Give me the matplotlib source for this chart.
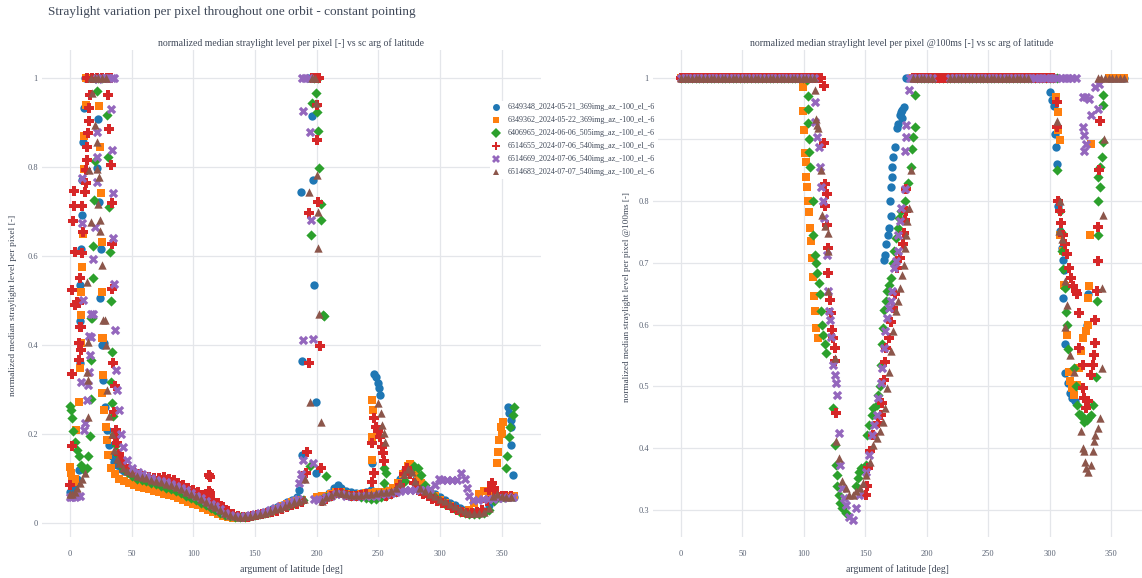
import numpy as np
import matplotlib
matplotlib.use("Agg")
import matplotlib.pyplot as plt
from matplotlib.lines import Line2D

plt.rcParams["font.family"] = ["Liberation Serif", "DejaVu Serif"]

labels = [
    "6349348_2024-05-21_369img_az_-100_el_-6",
    "6349362_2024-05-22_369img_az_-100_el_-6",
    "6406965_2024-06-06_505img_az_-100_el_-6",
    "6514655_2024-07-06_540img_az_-100_el_-6",
    "6514669_2024-07-06_540img_az_-100_el_-6",
    "6514683_2024-07-07_540img_az_-100_el_-6",
]
colors = ["#1f77b4", "#ff7f0e", "#2ca02c", "#d62728", "#9467bd", "#8c564b"]
markers = ["o", "s", "D", "P", "X", "^"]
sizes = [36, 30, 27, 48, 46, 36]

# ---------------- left panel: normalized median level (argument of latitude, value) ----------------
blue_left = [
    (0, .07), (1.5, .075), (3, .085), (4.5, .09), (6, .1), (7, .12),
    (8.1, .359), (8.1, .455), (8.1, .536), (8.7, .615), (9.5, .692), (9.5, .772), (10.8, .857), (11.4, .933),
    (12, 1), (15, 1), (18, 1), (21, 1), (24, 1), (27, 1), (30, 1),
    (22.2, .799), (22.4, .907), (23.8, .722), (24.9, .615), (24.3, .505), (25.7, .4), (27.4, .404), (26.8, .321),
    (28, .26), (30, .21), (32, .175), (34, .15), (36, .138), (38, .13), (41, .122), (44, .118),
    (48, .112), (52, .107), (56, .103), (60, .1), (64, .097), (68, .094), (72, .091), (76, .088), (80, .084),
    (84, .08), (88, .075), (92, .07), (96, .064), (100, .058), (104, .052), (108, .046), (112, .04), (116, .034),
    (120, .028), (124, .022), (128, .018), (132, .016), (136, .015), (140, .015), (144, .016), (148, .018),
    (152, .02), (156, .023), (160, .027), (164, .032), (168, .037), (172, .042), (176, .048), (180, .052),
    (184, .058), (186, .075),
    (187.8, .153), (188.1, .364), (187.4, .745), (196.5, .914), (197.4, .772), (198.1, .535), (199.3, .273),
    (199.3, .112), (193, 1), (196, 1),
    (202, .06), (206, .062), (210, .068), (214, .08), (217, .085), (220, .08), (224, .072), (228, .07),
    (232, .068), (236, .068), (240, .07), (244, .075),
    (245.3, .135), (246.9, .335), (247.8, .328), (250, .314), (251, .303), (251.6, .288),
    (256, .075), (260, .075), (264, .08), (268, .1), (272, .12), (275, .128), (278, .12), (281, .1),
    (284, .085), (288, .075), (292, .07), (296, .065), (300, .058), (304, .052), (308, .045), (312, .04),
    (316, .034), (320, .03), (324, .027), (328, .025), (332, .025), (336, .028), (340, .04), (344, .055),
    (348, .058), (352, .058), (356, .058), (360, .058),
    (354.9, .26), (355.8, .247), (357.4, .232), (358, .217), (357.4, .176), (359, .108),
]
orange_left = [
    (0, .127), (0.9, .112), (2, .1), (3, .092), (4, .1), (5, .21), (7.1, .273), (8.1, .348), (8.8, .404),
    (8.8, .467), (8.9, .52), (9.5, .576), (10.8, .65), (11.4, .795), (11.6, .87), (13, .94),
    (13, 1), (16, 1), (19, 1), (22, 1),
    (23.8, .937), (24.3, .844), (25.1, .741), (25.7, .632), (25.7, .52), (25.7, .415), (26.8, .417), (26.8, .333),
    (25.9, .292), (27.4, .254), (28.9, .217), (29.9, .187), (31.1, .153), (33.6, .123), (36.7, .11), (40, .1),
    (44, .095), (48, .09), (52, .086), (56, .082), (60, .079), (64, .076), (68, .072), (72, .069), (76, .066),
    (80, .063), (84, .06), (88, .056), (92, .052), (96, .048), (100, .044), (104, .04), (108, .035), (112, .03),
    (116, .025), (120, .02), (124, .016), (128, .013), (132, .012), (136, .012), (140, .013), (144, .014),
    (148, .016), (152, .018), (156, .02), (160, .024), (164, .028), (168, .033), (172, .038), (176, .043),
    (180, .047), (184, .05), (188, .052),
    (200, .058), (204, .06), (208, .062), (212, .066), (216, .07), (220, .07), (224, .066), (228, .064),
    (232, .064), (236, .065), (240, .068), (244, .068), (248, .07),
    (244.7, .142), (245.3, .194), (246, .254), (245.3, .277),
    (250, .07), (254, .07), (258, .072), (262, .078), (266, .09), (270, .11), (274, .128), (276, .134),
    (279, .12), (282, .105), (285, .09), (288, .078), (292, .068), (296, .06), (300, .052), (304, .045),
    (308, .038), (312, .032), (316, .027), (320, .025), (324, .03), (328, .045), (332, .065), (336, .072),
    (340, .07), (344, .065),
    (346.6, .135), (347.5, .161), (348.1, .187), (349.6, .217), (351.2, .228), (350, .2),
    (348, .06), (352, .06), (356, .06), (360, .06),
]
green_left = [
    (0, .263), (0.9, .254), (1.5, .236), (2.4, .206), (4.1, .183), (5.6, .165), (7.1, .15), (9, .13), (11, .12),
    (13.4, .125), (15, .15), (16.5, .196), (17.1, .278), (17.1, .366), (17.4, .46),
    (17.9, .46), (18.4, .55), (19, .623), (19.7, .727), (20.3, .814), (21.6, .971),
    (20, 1), (23, 1), (26, 1),
    (30.3, .918), (31.1, .823), (31.9, .711), (32.4, .61), (33.3, .5), (34.1, .385), (33.6, .318),
    (34, .27), (35, .24), (36, .2), (37, .175), (38, .155), (40, .14), (43, .125), (46, .116),
    (50, .105), (54, .1), (58, .097), (62, .094), (66, .09), (70, .087), (74, .084), (78, .08), (82, .076),
    (86, .072), (90, .067), (94, .062), (98, .057), (102, .052), (106, .046), (110, .04), (114, .034),
    (118, .029), (122, .024), (126, .019), (130, .016), (134, .015), (138, .015), (142, .015), (146, .016),
    (150, .018), (154, .02), (158, .023), (162, .026), (166, .03), (170, .034), (174, .038), (178, .042),
    (182, .046), (186, .05), (189, .052),
    (194.9, .129), (195.5, .647), (196, .943), (199.5, .967), (200, .924), (200.8, .882), (201.9, .798),
    (203.6, .716), (203.6, .682), (204.9, .467), (206.4, .465), (207.3, .105), (198, 1), (201, 1),
    (204, .055), (208, .058), (212, .062), (216, .068), (220, .07), (224, .065), (228, .062), (232, .06),
    (236, .058), (240, .056), (244, .055), (248, .055), (252, .058),
    (254.6, .123), (256.3, .112), (254.6, .09),
    (256, .06), (260, .065), (264, .07), (268, .08), (272, .095), (276, .115), (279, .128), (282, .125),
    (285, .108), (288, .085), (292, .07), (296, .058), (300, .05), (304, .044), (308, .038), (312, .032),
    (316, .026), (320, .022), (324, .02), (328, .02), (332, .02), (336, .022), (340, .03), (344, .05),
    (348, .058), (352, .058),
    (353.6, .123), (354.3, .15), (355.8, .194), (357, .215), (359, .243), (359.9, .262),
]
red_left = [
    (0, .086), (1.8, .174), (1.8, .335), (4.1, .49), (7.1, .495), (8.8, .44), (7.1, .404), (8.8, .389),
    (7.1, .367), (1.4, .524), (2.2, .679), (3.2, .712), (3.2, .746), (4.1, .61), (5.9, .497), (8.1, .441),
    (8.1, .55), (9.5, .606), (9.5, .712), (10.3, .655), (12.2, .744), (13, .765), (13, .793), (14.1, .817),
    (14.1, .844), (14.9, .876), (15.4, .904), (15.7, .933), (16.2, .962),
    (31.1, .962), (31.9, .885), (33.3, .805), (33.8, .72), (33.8, .627), (33.8, .525),
    (14, 1), (18, 1), (22, 1), (26, 1), (30, 1), (33, 1),
    (35.2, .359), (36.7, .308), (36.7, .194),
    (36, .25), (37, .21), (38, .18), (40, .155), (42, .14), (45, .128), (48, .12),
    (52, .114), (56, .11), (60, .107), (64, .104), (68, .102), (72, .101), (76, .103), (80, .1), (84, .096),
    (88, .09), (92, .085), (96, .08), (100, .075), (104, .07), (108, .064), (112, .058), (116, .052),
    (120, .045), (124, .036), (128, .028), (132, .02), (136, .016), (140, .015), (144, .015), (148, .016),
    (152, .018), (156, .02), (160, .022), (164, .025), (168, .028), (172, .032), (176, .036), (180, .04),
    (184, .044), (188, .048),
    (112.6, .108), (113.6, .104), (112.6, .072), (113.8, .068),
    (192.4, .161), (191.7, .112), (194, .359), (202.6, .398), (203.3, .123), (193.8, .697), (200, .861),
    (200, .939), (201.4, .721), (196, 1), (199, 1), (202, 1),
    (204, .05), (208, .055), (212, .06), (216, .068), (220, .068), (224, .064), (228, .062), (232, .062),
    (236, .064), (240, .066),
    (245.3, .18), (244.7, .093), (246.9, .236), (248.4, .217), (250, .206), (251.6, .194), (253.1, .172),
    (253.8, .157), (246.9, .112), (255, .14),
    (256, .062), (260, .065), (264, .07), (268, .085), (271, .11), (273, .125), (276, .11), (279, .09),
    (282, .075), (286, .065), (290, .06), (294, .055), (298, .05), (302, .045), (306, .04), (310, .035),
    (314, .03), (318, .026), (322, .024), (326, .024), (330, .025), (334, .03), (338, .05), (340, .075),
    (342, .09), (344, .08), (346, .065), (350, .06), (354, .06), (358, .06),
]
purple_left = [
    (0, .058), (2, .058), (4, .058), (6, .06), (8, .062), (8.8, .318), (9.5, .675), (9.5, .775), (10.3, .502),
    (11.2, .209), (11.8, .224), (13.4, .277), (15, .31), (15.6, .34), (16.5, .378), (17.4, .419), (17.4, .471),
    (15.7, .42), (18.4, .47), (18.9, .594), (20.3, .665), (21.6, .767), (21.6, .823), (21.6, .879),
    (22.7, .997), (33.3, .93), (33.8, .838), (34.6, .742), (35.2, .64), (36, .537), (36.7, .434), (37.7, .344),
    (22, 1), (25, 1), (28, 1), (31, 1), (34, 1), (36, 1),
    (38, .3), (39.5, .254), (41, .2), (43, .172), (46, .142), (50, .125), (55, .115), (58, .11),
    (62, .105), (66, .102), (70, .098), (74, .095), (78, .092), (82, .088), (86, .084), (90, .079), (94, .074),
    (98, .068), (102, .062), (106, .056), (110, .05), (114, .044), (118, .038), (122, .031), (126, .024),
    (130, .019), (134, .016), (138, .015), (142, .016), (146, .018), (150, .02), (154, .023), (158, .026),
    (162, .03), (166, .034), (170, .038), (174, .042), (178, .046), (182, .05), (185, .054),
    (189.2, .927), (194.6, .878), (195.5, .682), (189.3, .411), (197, .413), (189.3, .142), (197, .135),
    (186, .09), (187, .11), (188, .1), (188, 1), (191, 1), (194, 1),
    (198, .055), (201, .052), (204, .055), (208, .058), (212, .062), (216, .065), (220, .066), (224, .062),
    (228, .06), (232, .06), (236, .06), (240, .06), (244, .06), (248, .062), (252, .065), (256, .066),
    (260, .068), (264, .07), (268, .072), (272, .075), (276, .074), (280, .074), (284, .074), (288, .074),
    (292, .076), (296, .085), (299, .1), (302, .097), (306, .097), (310, .097), (314, .098), (317, .112),
    (320, .1), (322, .08), (324, .06), (327, .052), (331, .052), (335, .054), (339, .055), (343, .055),
    (347, .056), (351, .057), (355, .058), (359, .059),
]
brown_left = [
    (0, .065), (2, .065), (4, .07), (6, .08), (8, .09), (10, .1), (11.8, .112), (14.3, .239), (14.3, .322),
    (15, .408), (14.1, .34), (14.1, .541), (15.7, .793), (16.8, .677), (17.6, .966), (20.3, .894), (21.6, .857),
    (21.6, .795), (22.7, .717), (23.8, .777), (24.3, .681), (24.3, .657), (25.7, .58), (27, .457), (28, .456),
    (28.9, .4), (17, 1), (20, 1), (23, 1), (26, 1), (29, 1),
    (30, .3), (32, .24), (34, .2), (36, .165), (38, .145), (40, .135), (43, .125), (46, .118),
    (50, .112), (54, .107), (58, .104), (62, .101), (66, .098), (70, .095), (74, .092), (78, .089), (82, .085),
    (86, .081), (90, .076), (94, .071), (98, .066), (102, .06), (106, .054), (110, .048), (114, .042),
    (118, .036), (122, .03), (126, .023), (130, .018), (134, .016), (138, .015), (142, .016), (146, .017),
    (150, .019), (154, .021), (158, .024), (162, .027), (166, .031), (170, .035), (174, .039), (178, .043),
    (182, .047), (186, .05), (190, .055),
    (194, .745), (199.5, .944), (200, .782), (200.8, .699), (201.4, .619), (201.9, .469), (194.9, .273),
    (203.3, .228), (191, .1), (196, 1), (199, 1),
    (204, .05), (208, .058), (212, .064), (216, .07), (220, .068), (224, .066), (228, .064), (232, .064),
    (236, .064), (240, .065), (244, .066), (248, .068),
    (250, .269), (252.2, .247), (253.1, .221), (254.6, .202), (255.3, .183),
    (252, .07), (256, .07), (260, .072), (264, .078), (268, .09), (271, .11), (274, .122), (277, .115),
    (280, .095), (284, .08), (288, .072), (292, .066), (296, .06), (300, .055), (304, .05), (308, .044),
    (312, .038), (316, .032), (320, .027), (324, .024), (328, .023), (332, .023), (336, .026), (340, .035),
    (343, .06), (346, .065), (350, .06), (354, .058), (358, .058),
]

# ---------------- right panel: normalized median level @100ms ----------------
# argument of latitude samples used for the stretches clipped at the ceiling value 1
arg_steps = [
    0, 3, 6, 9, 12, 15, 18, 21, 24, 27, 30, 33, 36, 39, 42, 45, 48, 51, 54, 57, 60, 63, 66, 69, 72, 75,
    78, 81, 84, 87, 90, 93, 96, 99, 102, 105, 108, 111, 114, 117, 120, 123, 126, 129, 132, 135, 138, 141,
    144, 147, 150, 153, 156, 159, 162, 165, 168, 171, 174, 177, 180, 183, 186, 189, 192, 195, 198, 201,
    204, 207, 210, 213, 216, 219, 222, 225, 228, 231, 234, 237, 240, 243, 246, 249, 252, 255, 258, 261,
    264, 267, 270, 273, 276, 279, 282, 285, 288, 291, 294, 297, 300, 303, 306, 309, 312, 315, 318, 321,
    324, 327, 330, 333, 336, 339, 342, 345, 348, 351, 354, 357, 360,
]
ceiling = 1.0
clipped_ranges = [
    [(0, 96), (183, 300), (348, 360)],
    [(0, 96), (189, 303), (348, 360)],
    [(0, 99), (192, 306)],
    [(0, 114), (189, 303)],
    [(0, 108), (186, 204), (219, 321)],
    [(0, 108), (189, 204), (219, 282), (339, 360)],
]

blue_right = [
    (165.4, .705), (166.2, .713), (167.1, .73), (168.2, .746), (169.1, .757), (170.5, .776), (169.9, .8),
    (170.7, .823), (171.3, .839), (171.9, .855), (172.7, .872), (173.8, .888), (175.5, .918), (176.7, .925),
    (177.8, .94), (178.9, .945), (179.5, .947), (181.2, .952), (180, .935),
    (300.4, .977), (302.1, .964), (303.2, .955), (304.1, .909), (304.9, .888), (305.5, .86), (306.9, .792),
    (308.3, .751), (309.7, .724), (311.1, .705), (311.7, .689), (311.1, .643), (312, .568), (312.5, .522),
    (314.5, .505), (316.7, .489), (318.1, .481), (320.1, .476), (330.8, .649), (330.2, .6),
]
orange_right = [
    (99.6, .985), (99.6, .946), (100.1, .915), (100.7, .878), (101.3, .863), (101.8, .839), (102.4, .823),
    (103, .801), (103.8, .782), (104.6, .757), (105.8, .735), (106.3, .708), (107.5, .678), (108, .647),
    (108.6, .622), (110, .595), (111.4, .578),
    (304.9, .969), (306.9, .945), (306.9, .915), (308.3, .899), (308.3, .746), (311.1, .719), (311.7, .665),
    (312.5, .662), (313.9, .584), (315.3, .524), (316.7, .508), (318.1, .497), (319.6, .486), (321.8, .503),
    (323.8, .53), (325.2, .557), (326.6, .578), (329.4, .589), (330.8, .6), (331.4, .643), (332.2, .662),
    (333.1, .746), (333.6, .893),
]
green_right = [
    (102.4, .996), (103, .97), (103, .95), (103, .926), (103.8, .9), (104.4, .88), (105.2, .855), (107.2, .8),
    (107.7, .746), (108.6, .713), (110, .7), (110.8, .684), (112, .668), (112.8, .649), (114.2, .622),
    (115, .6), (115.9, .584), (117, .568), (117.6, .554), (124, .465), (124.9, .405), (126.3, .373),
    (126.9, .357), (127.1, .338), (128.3, .324), (129.7, .311), (131.1, .303), (133.9, .295),
    (142.3, .338), (143.7, .351), (144.6, .362), (146.6, .368), (150.8, .373), (151.3, .422), (153, .438),
    (155, .454), (156.4, .465), (159.2, .47), (160.6, .486), (162, .5), (162.6, .535), (163.4, .568),
    (164.3, .595), (165.4, .624), (166.5, .638), (167.7, .654), (169.3, .665), (171, .676), (172.7, .7),
    (173.3, .719), (175, .74), (176.1, .757), (177.5, .773), (178.9, .784), (182, .8), (184.5, .83),
    (187.3, .855), (188.2, .885), (188.7, .904), (190.2, .92), (190.7, .972),
    (306, .85), (308.3, .784), (309, .75), (310, .72), (311, .69), (312, .66), (313, .62), (314, .6),
    (315, .56), (319.6, .53), (321, .5), (322.5, .47), (324, .455), (325.2, .454), (326.6, .448), (328, .443),
    (330, .445), (332, .45), (333.6, .454), (335, .47), (337.8, .516), (338.7, .638), (339.2, .746),
    (339.2, .8), (339.2, .839), (340.6, .823), (340.6, .855), (342.1, .872), (343.5, .896), (343.5, .956),
    (343.5, .972),
]
red_right = [
    (116.5, .986), (116.5, .894), (117, .828), (118.4, .812), (117, .792), (118.7, .762), (119.3, .724),
    (119.8, .684), (121.2, .64), (122.1, .619), (123.2, .592), (124, .578), (124.9, .562), (125.5, .541),
    (126.3, .457),
    (150.8, .324), (151.3, .338), (152.2, .368), (153.6, .395), (156.4, .422), (160.6, .44), (162.6, .454),
    (163.4, .473), (164.8, .511), (166.2, .54), (167.1, .562), (169.1, .578), (171, .605), (172.7, .627),
    (173.8, .649), (175.5, .692), (178.3, .708), (180.3, .73), (181.7, .749), (182.3, .77), (183.1, .784),
    (183.1, .82),
    (305.5, .96), (306, .92), (306.9, .8), (308.3, .784), (309, .765), (310.6, .746), (312.5, .73),
    (313.9, .714), (315.3, .692), (317.3, .676), (319, .662), (321, .655), (322.4, .649), (323.8, .619),
    (323.8, .562), (326.6, .535), (327.4, .497), (328, .481), (329.4, .465), (330.8, .476), (333.6, .519),
    (335, .535), (335.9, .551), (336.4, .57), (337, .608), (338.7, .654), (339.2, .703), (339.2, .759),
    (340, .85), (341, .93),
]
purple_right = [
    (108.6, .961), (109.1, .928), (110.8, .904), (112, .888), (113.1, .855), (114.2, .823), (115.6, .801),
    (116.2, .773), (118.4, .713), (119.3, .654), (120.7, .622), (121.2, .608), (122.1, .58), (124, .535),
    (124.9, .519), (126, .505), (126.6, .486), (128.3, .424), (129.1, .373), (131.1, .335), (132.5, .319),
    (134.5, .308), (136.7, .289), (139.5, .284), (142.3, .303), (145.1, .324), (150.8, .362), (153, .389),
    (155, .422), (157, .438), (159.2, .454), (160.6, .481), (162.6, .505), (163.4, .53), (164.8, .562),
    (166.2, .589), (167.7, .611), (169.1, .627), (170.5, .638), (171.9, .654), (173.3, .692), (174.7, .703),
    (176.1, .719), (176.7, .746), (178.3, .768), (178.9, .789), (182, .82), (182.3, .882), (183.4, .904),
    (182.8, .923), (185.1, .98),
    (326.6, .969), (329.4, .969), (332.2, .966), (336.4, .985), (339.2, .95), (333.6, .94), (326.6, .92),
    (328, .907), (329.4, .893), (328, .882), (340, .99),
]
brown_right = [
    (108.6, .98), (110, .934), (110.8, .923), (111.4, .918), (114.2, .85), (115, .778), (117, .76),
    (119.8, .749), (119.8, .719), (119.8, .654), (124.9, .546), (126, .411), (128.3, .384), (131.1, .346),
    (133.9, .335), (136.7, .324), (139.5, .324), (142.3, .33), (145.7, .335), (148, .343), (150.8, .357),
    (153.6, .378), (156.4, .405), (159.2, .416), (162, .427), (164.3, .443), (166.2, .465), (167.7, .497),
    (169.1, .524), (171, .557), (172.7, .589), (174.7, .622), (176.1, .638), (178.3, .659), (180, .681),
    (181.2, .697), (182.3, .724), (183.1, .746), (184, .768), (185.1, .789), (187, .85),
    (306, .93), (308, .8), (307.5, .751), (309.7, .738), (312.5, .67), (313.9, .632), (312.5, .597),
    (316.7, .551), (319.6, .524), (325.2, .427), (326.6, .4), (328, .395), (328.6, .378), (329.4, .368),
    (330.8, .362), (333.6, .373), (335, .395), (335.9, .411), (337, .422), (339.2, .432), (340.6, .449),
    (342.1, .53), (342.6, .659), (343.5, .778), (344, .9),
]

left_series = [blue_left, orange_left, green_left, red_left, purple_left, brown_left]
right_series = [blue_right, orange_right, green_right, red_right, purple_right, brown_right]

W, H = 1142, 578
fig = plt.figure(figsize=(W / 100, H / 100), dpi=100)
fig.patch.set_facecolor("white")

ax1 = fig.add_axes([42 / W, 1 - 537 / H, (541 - 42) / W, (537 - 50) / H])
ax2 = fig.add_axes([653 / W, 1 - 537 / H, (W - 653) / W, (537 - 50) / H])

tick_col = "#596273"
text_col = "#3f4858"
grid_col = "#e4e6ea"

for i in range(6):
    x, y = zip(*left_series[i])
    ax1.scatter(x, y, s=sizes[i], c=colors[i], marker=markers[i], linewidths=0, zorder=3 + i)

    px, py = zip(*right_series[i])
    sat = [a for a in arg_steps if any(lo <= a <= hi for lo, hi in clipped_ranges[i])]
    px = list(px) + sat
    py = list(py) + [ceiling] * len(sat)
    ax2.scatter(px, py, s=sizes[i], c=colors[i], marker=markers[i], linewidths=0, zorder=3 + i)

ax1.set_xlim(-22.7, 382)
ax1.set_ylim(-0.031, 1.063)
ax1.set_yticks([0, 0.2, 0.4, 0.6, 0.8, 1])
ax1.set_yticklabels(["0", "0.2", "0.4", "0.6", "0.8", "1"])

ax2.set_xlim(-22.8, 375)
ax2.set_ylim(0.256, 1.045)
ax2.set_yticks([0.3, 0.4, 0.5, 0.6, 0.7, 0.8, 0.9, 1])
ax2.set_yticklabels(["0.3", "0.4", "0.5", "0.6", "0.7", "0.8", "0.9", "1"])

for ax in (ax1, ax2):
    ax.set_xticks([0, 50, 100, 150, 200, 250, 300, 350])
    ax.grid(True, color=grid_col, linewidth=0.9, zorder=0)
    ax.set_axisbelow(True)
    for sp in ax.spines.values():
        sp.set_visible(False)
    ax.tick_params(axis="x", length=0, labelsize=6, colors=tick_col, pad=9)
    ax.tick_params(axis="y", length=0, labelsize=6, colors=tick_col, pad=3)
    ax.set_xlabel("argument of latitude [deg]", fontsize=7, color=text_col, labelpad=5)

fig.text(48 / W, 1 - 12 / H, "Straylight variation per pixel throughout one orbit - constant pointing",
         ha="left", va="center", fontsize=9.5, color=text_col)
fig.text(291 / W, 1 - 43 / H,
         "normalized median straylight level per pixel [-] vs sc arg of latitude",
         ha="center", va="center", fontsize=7, color=text_col)
fig.text(902 / W, 1 - 43 / H,
         "normalized median straylight level per pixel @100ms [-] vs sc arg of latitude",
         ha="center", va="center", fontsize=7, color=text_col)
fig.text(13 / W, 1 - 305 / H, "normalized median straylight level per pixel [-]",
         rotation=90, ha="center", va="center", fontsize=6.8, color=text_col)
fig.text(627 / W, 1 - 297 / H, "normalized median straylight level per pixel @100ms [-]",
         rotation=90, ha="center", va="center", fontsize=6.6, color=text_col)

handles = [Line2D([], [], linestyle="none", marker=markers[i], color=colors[i],
                  markersize=5.5 if markers[i] in "PX" else 5, markeredgewidth=0)
           for i in range(6)]
leg = fig.legend(handles, labels, loc="upper left", bbox_to_anchor=(490 / W, 1 - 101 / H),
                 frameon=True, facecolor="white", edgecolor="none", framealpha=1, fontsize=5.8,
                 handletextpad=0.9, labelspacing=0.62, borderpad=0.3, handlelength=1.0,
                 borderaxespad=0)
for t in leg.get_texts():
    t.set_color(text_col)
leg.set_zorder(20)

fig.savefig("out.png", dpi=100)
